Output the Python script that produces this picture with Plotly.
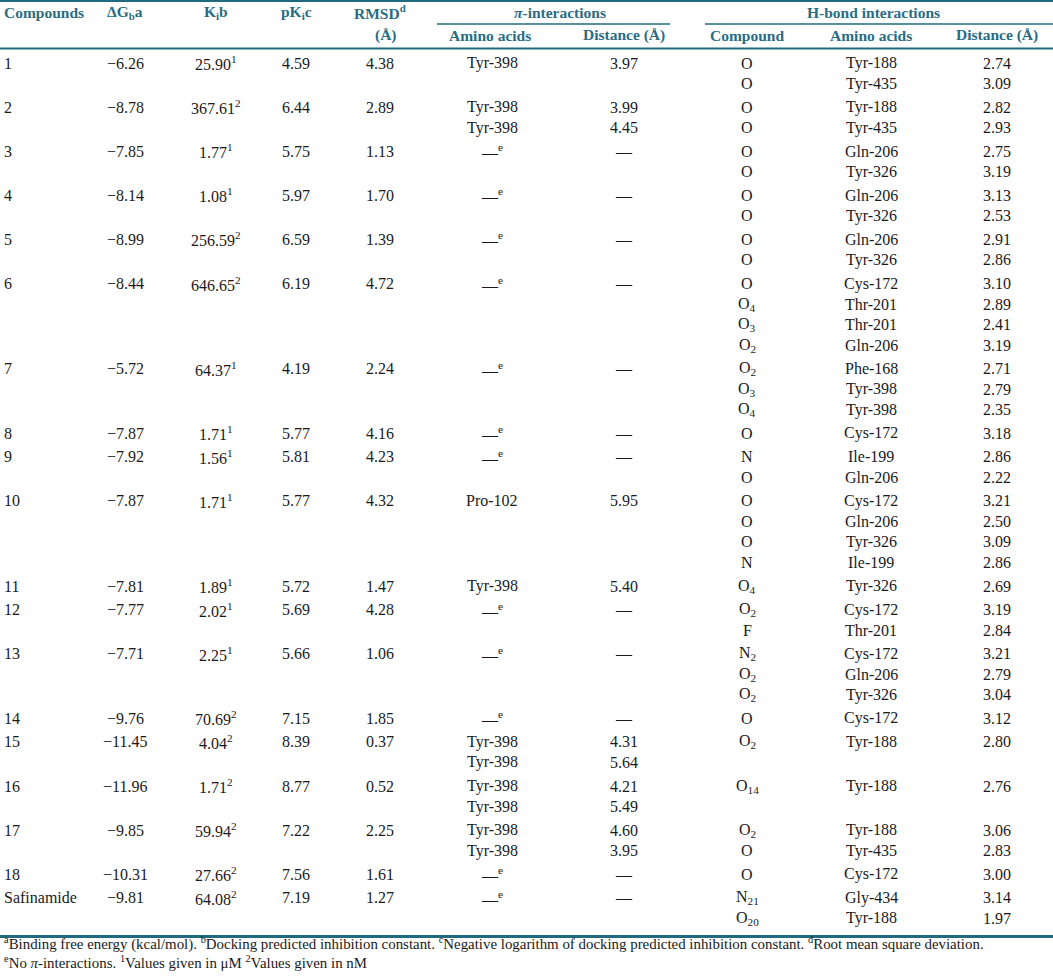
import plotly.graph_objects as go

# ---------------- data ----------------
compounds = ["1", "2", "3", "4", "5", "6", "7", "8", "9", "10", "11", "12", "13",
             "14", "15", "16", "17", "18", "Safinamide"]
dG = ["−6.26", "−8.78", "−7.85", "−8.14", "−8.99", "−8.44", "−5.72", "−7.87", "−7.92",
      "−7.87", "−7.81", "−7.77", "−7.71", "−9.76", "−11.45", "−11.96", "−9.85", "−10.31", "−9.81"]
ki = ["25.90", "367.61", "1.77", "1.08", "256.59", "646.65", "64.37", "1.71", "1.56",
      "1.71", "1.89", "2.02", "2.25", "70.69", "4.04", "1.71", "59.94", "27.66", "64.08"]
ki_unit = [1, 2, 1, 1, 2, 2, 1, 1, 1, 1, 1, 1, 1, 2, 2, 2, 2, 2, 2]
pki = ["4.59", "6.44", "5.75", "5.97", "6.59", "6.19", "4.19", "5.77", "5.81", "5.77",
       "5.72", "5.69", "5.66", "7.15", "8.39", "8.77", "7.22", "7.56", "7.19"]
rmsd = ["4.38", "2.89", "1.13", "1.70", "1.39", "4.72", "2.24", "4.16", "4.23", "4.32",
        "1.47", "4.28", "1.06", "1.85", "0.37", "0.52", "2.25", "1.61", "1.27"]
pi_aa = [["Tyr-398"], ["Tyr-398", "Tyr-398"], [], [], [], [], [], [], [], ["Pro-102"],
         ["Tyr-398"], [], [], [], ["Tyr-398", "Tyr-398"], ["Tyr-398", "Tyr-398"],
         ["Tyr-398", "Tyr-398"], [], []]
pi_dist = [["3.97"], ["3.99", "4.45"], [], [], [], [], [], [], [], ["5.95"],
           ["5.40"], [], [], [], ["4.31", "5.64"], ["4.21", "5.49"],
           ["4.60", "3.95"], [], []]
hb_atom = [["O", "O"], ["O", "O"], ["O", "O"], ["O", "O"], ["O", "O"],
           ["O", "O4", "O3", "O2"], ["O2", "O3", "O4"], ["O"], ["N", "O"],
           ["O", "O", "O", "N"], ["O4"], ["O2", "F"], ["N2", "O2", "O2"], ["O"],
           ["O2"], ["O14"], ["O2", "O"], ["O"], ["N21", "O20"]]
hb_aa = [["Tyr-188", "Tyr-435"], ["Tyr-188", "Tyr-435"], ["Gln-206", "Tyr-326"],
         ["Gln-206", "Tyr-326"], ["Gln-206", "Tyr-326"],
         ["Cys-172", "Thr-201", "Thr-201", "Gln-206"], ["Phe-168", "Tyr-398", "Tyr-398"],
         ["Cys-172"], ["Ile-199", "Gln-206"], ["Cys-172", "Gln-206", "Tyr-326", "Ile-199"],
         ["Tyr-326"], ["Cys-172", "Thr-201"], ["Cys-172", "Gln-206", "Tyr-326"], ["Cys-172"],
         ["Tyr-188"], ["Tyr-188"], ["Tyr-188", "Tyr-435"], ["Cys-172"], ["Gly-434", "Tyr-188"]]
hb_dist = [["2.74", "3.09"], ["2.82", "2.93"], ["2.75", "3.19"], ["3.13", "2.53"],
           ["2.91", "2.86"], ["3.10", "2.89", "2.41", "3.19"], ["2.71", "2.79", "2.35"],
           ["3.18"], ["2.86", "2.22"], ["3.21", "2.50", "3.09", "2.86"], ["2.69"],
           ["3.19", "2.84"], ["3.21", "2.79", "3.04"], ["3.12"], ["2.80"], ["2.76"],
           ["3.06", "2.83"], ["3.00"], ["3.14", "1.97"]]

header1 = ["Compounds", "ΔG<sub>b</sub>a", "K<sub>i</sub>b", "pK<sub>i</sub>c", "RMSD<sup>d</sup>"]
header2 = ["(Å)", "Amino acids", "Distance (Å)", "Compound", "Amino acids", "Distance (Å)"]
group_titles = ["<i>π</i>-interactions", "H-bond interactions"]
footnotes = [
    "<sup>a</sup>Binding free energy (kcal/mol). <sup>b</sup>Docking predicted inhibition constant. "
    "<sup>c</sup>Negative logarithm of docking predicted inhibition constant. <sup>d</sup>Root mean square deviation.",
    "<sup>e</sup>No <i>π</i>-interactions. <sup>1</sup>Values given in μM <sup>2</sup>Values given in nM",
]

# ---------------- layout / styling ----------------
W, H = 1053, 977
TEAL = "#2a6d83"
RULE = "#1f6a7e"
BODY = "#1a1a1a"
FONT = "Liberation Serif"
FS = 16
FSH = 15.5

X_COMP = 2
X_DG, X_KI, X_PKI, X_RMSD = 125, 216, 296, 380
X_PIAA, X_PID = 492, 624
X_HBA, X_HBAA, X_HBD = 747, 871, 997

Y0 = 63
STEP = 20.5
GAP = 23.6

fig = go.Figure()
fig.add_trace(go.Scatter(x=[0], y=[0], mode="markers", marker=dict(opacity=0),
                         hoverinfo="skip", showlegend=False))

annots = []


def txt(x, y, s, anchor="center", color=BODY, size=FS, bold=False, yanchor="middle"):
    if bold:
        s = "<b>" + s + "</b>"
    annots.append(dict(x=x, y=y, xref="x", yref="y", text=s, showarrow=False,
                       xanchor=anchor, yanchor=yanchor,
                       font=dict(family=FONT, size=size, color=color)))


def atom(a):
    return a[0] + ("<sub>" + a[1:] + "</sub>" if len(a) > 1 else "")


# header
hy1, hy2 = 12, 35
txt(X_COMP, hy1, header1[0], anchor="left", color=TEAL, bold=True, size=FSH)
for xx, h in zip([X_DG, X_KI, X_PKI, X_RMSD], header1[1:]):
    txt(xx, hy1, h, color=TEAL, bold=True, size=FSH)
txt(560, hy1, group_titles[0], color=TEAL, bold=True, size=FSH)
txt(873, hy1, group_titles[1], color=TEAL, bold=True, size=FSH)
for xx, h in zip([X_RMSD + 6, X_PIAA - 2, X_PID, X_HBA, X_HBAA, X_HBD], header2):
    txt(xx, hy2, h, color=TEAL, bold=True, size=FSH)

# body
y = Y0
for i in range(len(compounds)):
    txt(X_COMP, y, compounds[i], anchor="left")
    txt(X_DG, y, dG[i])
    txt(X_KI, y, f"{ki[i]}<sup>{ki_unit[i]}</sup>")
    txt(X_PKI, y, pki[i])
    txt(X_RMSD, y, rmsd[i])
    if pi_aa[i]:
        for j, (aa, d) in enumerate(zip(pi_aa[i], pi_dist[i])):
            txt(X_PIAA, y + j * STEP, aa)
            txt(X_PID, y + j * STEP, d)
    else:
        txt(X_PIAA, y, "—<sup>e</sup>")
        txt(X_PID, y, "—")
    for j, (a, aa, d) in enumerate(zip(hb_atom[i], hb_aa[i], hb_dist[i])):
        yy = y + j * STEP
        if len(a) > 1:
            txt(X_HBA, yy - 11.5, atom(a), yanchor="top")
        else:
            txt(X_HBA, yy, a)
        txt(X_HBAA, yy, aa)
        txt(X_HBD, yy, d)
    n = max(len(pi_aa[i]), len(hb_atom[i]), 1)
    y += (n - 1) * STEP + GAP

# footnotes
txt(2, 943, footnotes[0], anchor="left", size=14.9)
txt(2, 962, footnotes[1], anchor="left", size=14.9)

shapes = [
    dict(type="line", x0=0, x1=W, y0=1, y1=1, line=dict(color=RULE, width=2)),
    dict(type="line", x0=437, x1=670, y0=24, y1=24, line=dict(color=RULE, width=1.5)),
    dict(type="line", x0=705, x1=W, y0=24, y1=24, line=dict(color=RULE, width=1.5)),
    dict(type="line", x0=0, x1=W, y0=48.5, y1=48.5, line=dict(color=RULE, width=2)),
    dict(type="line", x0=0, x1=W, y0=936.5, y1=936.5, line=dict(color=RULE, width=3)),
]
for s in shapes:
    s.update(xref="x", yref="y")

fig.update_layout(
    width=W, height=H, margin=dict(l=0, r=0, t=0, b=0),
    paper_bgcolor="white", plot_bgcolor="white",
    xaxis=dict(range=[0, W], visible=False, fixedrange=True),
    yaxis=dict(range=[H, 0], visible=False, fixedrange=True),
    annotations=annots, shapes=shapes, showlegend=False,
)

fig.write_html(
    "out.html",
    config={"displayModeBar": False},
    post_script="document.body.style.margin='0';document.body.style.overflow='hidden';",
)
